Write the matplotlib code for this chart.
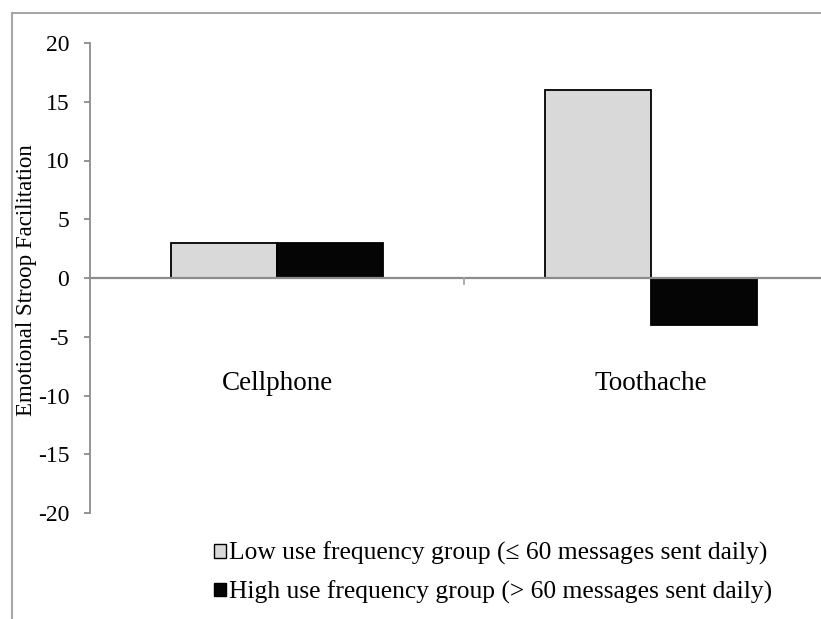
import matplotlib
matplotlib.use("Agg")
import matplotlib.pyplot as plt
from matplotlib.patches import Patch
import numpy as np

categories = ["Cellphone", "Toothache"]
low_use = [3, 16]
high_use = [3, -4]
series_labels = ["Low use frequency group (\u2264 60 messages sent daily)",
                 "High use frequency group (> 60 messages sent daily)"]
yticks = [-20, -15, -10, -5, 0, 5, 10, 15, 20]

plt.rcParams['font.family'] = ['Liberation Serif', 'DejaVu Serif']

W, H = 821, 619
fig = plt.figure(figsize=(W / 100, H / 100), dpi=100)

def fx(px):
    return px / W

def fy(py):
    return 1 - py / H

gray = "#8c8c8c"
ax = fig.add_axes([fx(90), fy(513), fx(838) - fx(90), fy(43) - fy(513)])
ax.set_xlim(-0.5, 1.5)
ax.set_ylim(-20, 20)

x = np.arange(len(categories))
bw = 0.283
ax.bar(x - bw / 2, low_use, width=bw, color="#d9d9d9", edgecolor="black", linewidth=1.3, zorder=2)
ax.bar(x + bw / 2, high_use, width=bw, color="#050505", edgecolor="black", linewidth=1.3, zorder=2)

ax.axhline(0, color=gray, linewidth=1.6, zorder=3)
# category separator tick
ax.plot([0.5, 0.5], [0, -0.55], color="#a6a6a6", linewidth=1.3, zorder=3, clip_on=False)

for s in ["top", "right", "bottom"]:
    ax.spines[s].set_visible(False)
ax.spines["left"].set_color(gray)
ax.spines["left"].set_linewidth(1.3)
ax.set_yticks(yticks)
ax.set_yticklabels([str(v) for v in yticks])
ax.tick_params(axis="y", direction="out", length=4, width=1.3, color=gray, pad=11, labelsize=17)
ax.set_xticks([])

for xi, c in zip(x, categories):
    ax.text(xi, -9, c, ha="center", va="center", fontsize=19.5)

fig.text(fx(27), fy(280), "Emotional Stroop Facilitation", rotation=90,
         ha="center", va="center", fontsize=16.5)

# outer frame
fig.add_artist(plt.Line2D([fx(12), fx(12)], [fy(13), 0], color="#a6a6a6", linewidth=1.5))
fig.add_artist(plt.Line2D([fx(12), 1], [fy(13), fy(13)], color="#a6a6a6", linewidth=1.5))

handles = [Patch(facecolor="#d9d9d9", edgecolor="black", linewidth=1.0),
           Patch(facecolor="#050505", edgecolor="black", linewidth=1.0)]
fig.legend(handles, series_labels, loc="upper left", bbox_to_anchor=(fx(214), fy(542)),
           frameon=False, fontsize=18.4, handlelength=0.45, handleheight=0.45,
           handletextpad=0.15, labelspacing=0.6, borderaxespad=0, borderpad=0)

fig.savefig("out.png", dpi=100)
